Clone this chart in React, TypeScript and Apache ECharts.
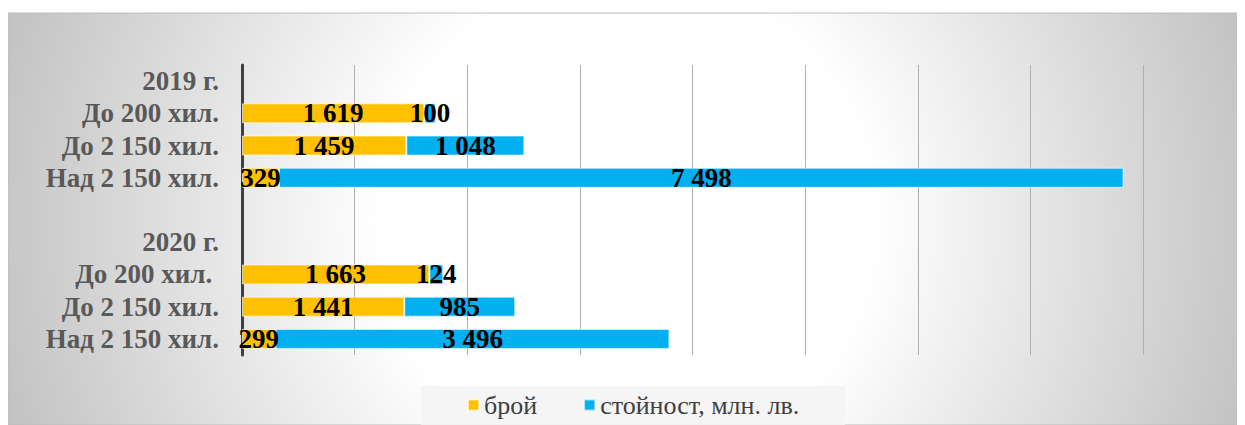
import React, { useEffect, useRef } from "react";
import * as echarts from "echarts";

const categories = [
  "2019 г.",
  "До 200 хил.",
  "До 2 150 хил.",
  "Над 2 150 хил.",
  "",
  "2020 г.",
  "До 200 хил. ",
  "До 2 150 хил.",
  "Над 2 150 хил.",
];
const countValues = [null, 1619, 1459, 329, null, null, 1663, 1441, 299];
const amountValues = [null, 100, 1048, 7498, null, null, 124, 985, 3496];
const seriesNames = ["брой", "стойност, млн. лв."];

const FONT = "Liberation Serif";

const fmt = (v: number) =>
  String(v).replace(/\B(?=(\d{3})+(?!\d))/g, " ");

export default function App() {
  const ref = useRef<HTMLDivElement>(null);
  useEffect(() => {
    if (!ref.current) return;
    const chart = echarts.init(ref.current, null, { renderer: "svg" });
    const label = {
      show: true,
      position: "inside" as const,
      color: "#000",
      fontFamily: FONT,
      fontWeight: "bold" as const,
      fontSize: 27,
      formatter: (p: any) => fmt(p.value),
    };
    chart.setOption({
      animation: false,
      textStyle: { fontFamily: FONT },
      graphic: [
        {
          type: "rect",
          z: -10,
          silent: true,
          shape: { x: 0, y: 5, width: 1237, height: 412 },
          style: {
            fill: {
              type: "radial",
              x: 618,
              y: 214,
              r: 650,
              global: true,
              colorStops: [
                { offset: 0, color: "#ffffff" },
                { offset: 0.38, color: "#ffffff" },
                { offset: 1, color: "#c2c2c2" },
              ],
            },
            stroke: "#bdbdbd",
            lineWidth: 1,
          },
        },
        {
          type: "rect",
          z: -5,
          silent: true,
          shape: { x: 413, y: 378, width: 424, height: 45 },
          style: { fill: "rgba(244,244,244,0.9)" },
        },
      ],
      grid: { left: 234, right: 102, top: 57, bottom: 70, containLabel: false },
      legend: {
        bottom: 2,
        left: 454,
        itemWidth: 11,
        itemHeight: 11,
        itemGap: 46,
        icon: "rect",
        textStyle: {
          fontFamily: FONT,
          fontSize: 26,
          color: "#404040",
        },
        data: seriesNames,
      },
      xAxis: {
        type: "value",
        min: 0,
        max: 8000,
        interval: 1000,
        axisLabel: { show: false },
        axisLine: { show: false },
        axisTick: { show: false },
        splitLine: { lineStyle: { color: "#b0b0b0", width: 1 } },
      },
      yAxis: {
        type: "category",
        inverse: true,
        data: categories,
        axisTick: { show: false },
        axisLine: { lineStyle: { color: "#404040", width: 3 } },
        axisLabel: {
          interval: 0,
          fontFamily: FONT,
          fontWeight: "bold",
          fontSize: 27,
          color: "#595959",
          margin: 23,
        },
      },
      series: [
        {
          name: seriesNames[0],
          type: "bar",
          stack: "total",
          barWidth: 20,
          data: countValues,
          itemStyle: { color: "#FFC000", borderColor: "rgba(255,255,255,0.6)", borderWidth: 1 },
          label,
        },
        {
          name: seriesNames[1],
          type: "bar",
          stack: "total",
          barWidth: 20,
          data: amountValues,
          itemStyle: { color: "#00B0F0", borderColor: "rgba(255,255,255,0.6)", borderWidth: 1 },
          label,
        },
      ],
    });
    return () => chart.dispose();
  }, []);
  return <div ref={ref} style={{ width: 1237, height: 417 }} />;
}
